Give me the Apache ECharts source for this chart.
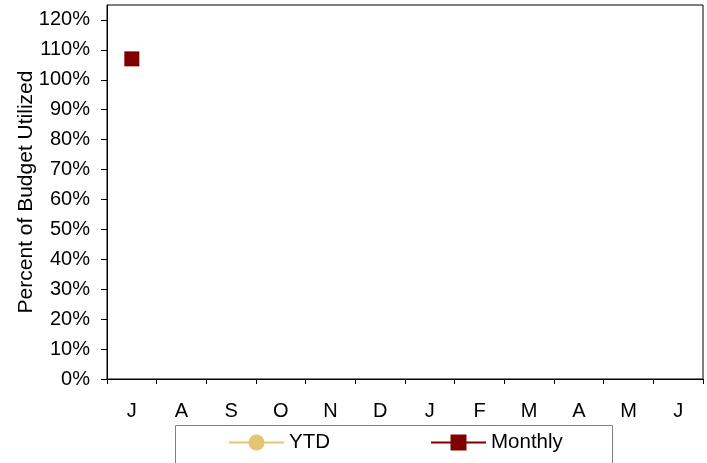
<!DOCTYPE html>
<html>
<head>
<meta charset="utf-8">
<script src="https://cdn.jsdelivr.net/npm/echarts@6/dist/echarts.min.js"></script>
<style>html,body{margin:0;padding:0;background:#fff;}#c{width:707px;height:463px;}</style>
</head>
<body>
<div id="c"></div>
<script>
var categories = ['J','A','S','O','N','D','J','F','M','A','M','J'];
var ytdValues = [107, null, null, null, null, null, null, null, null, null, null, null];
var monthlyValues = [107, null, null, null, null, null, null, null, null, null, null, null];
var yTicks = [0,10,20,30,40,50,60,70,80,90,100,110,120];

var chart = echarts.init(document.getElementById('c'));
var font = 'Liberation Sans, Arial, sans-serif';
chart.setOption({
  animation: false,
  textStyle: {fontFamily: font},
  grid: {left: 107, right: 4, top: 5, bottom: 84, show: true, borderColor: '#000', borderWidth: 1, backgroundColor: 'transparent'},
  xAxis: {
    type: 'category',
    data: categories,
    boundaryGap: true,
    axisLine: {lineStyle: {color: '#000', width: 1}},
    axisTick: {show: true, length: 5, lineStyle: {color: '#000'}},
    axisLabel: {color: '#000', fontSize: 20, margin: 22, fontFamily: font}
  },
  yAxis: {
    type: 'value',
    min: 0, max: 125, interval: 10,
    name: 'Percent of Budget Utilized',
    nameLocation: 'middle',
    nameGap: 70,
    nameMoveOverlap: false,
    nameTextStyle: {color: '#000', fontSize: 21, fontFamily: font},
    splitLine: {show: false},
    axisLine: {show: true, lineStyle: {color: '#000', width: 1}},
    axisTick: {show: true, length: 6, customValues: yTicks, lineStyle: {color: '#000'}},
    axisLabel: {color: '#000', fontSize: 20, margin: 17, fontFamily: font, customValues: yTicks,
      formatter: function (v) { return v + '%'; }}
  },
  legend: [{
    data: ['YTD'], left: 228, top: 432, padding: 0, itemWidth: 55, itemHeight: 20,
    textStyle: {color: '#000', fontSize: 20.5, fontFamily: font}
  }, {
    data: ['Monthly'], left: 430, top: 432, padding: 0, itemWidth: 55, itemHeight: 20,
    textStyle: {color: '#000', fontSize: 20.5, fontFamily: font}
  }],
  graphic: [{
    type: 'rect', left: 175, top: 425, z: -1,
    shape: {width: 437, height: 50},
    style: {fill: '#fff', stroke: '#808080', lineWidth: 1}
  }],
  series: [{
    name: 'YTD', type: 'line', data: ytdValues,
    symbol: 'circle', symbolSize: 14, z: 2,
    itemStyle: {color: '#E3C46F'}, lineStyle: {color: '#E3C46F', width: 2.5}
  }, {
    name: 'Monthly', type: 'line', data: monthlyValues,
    symbol: 'rect', symbolSize: 15, z: 3,
    itemStyle: {color: '#800000'}, lineStyle: {color: '#800000', width: 2.5}
  }]
});
</script>
</body>
</html>
